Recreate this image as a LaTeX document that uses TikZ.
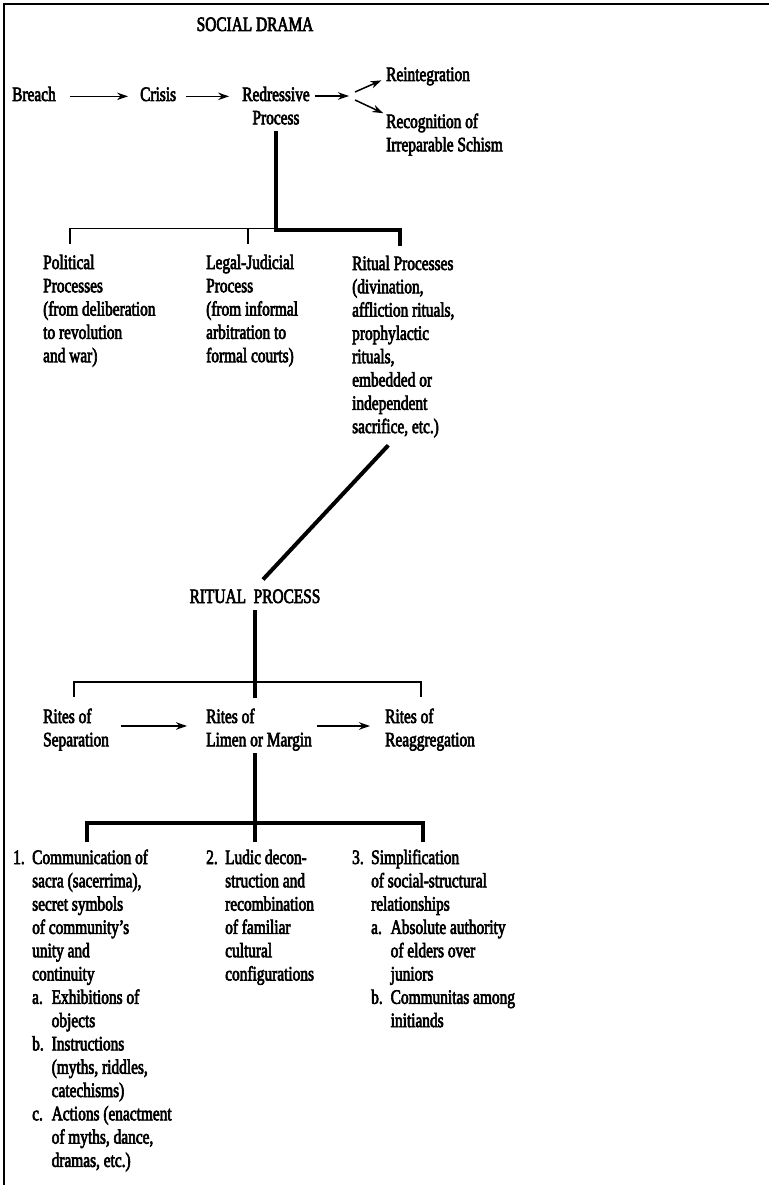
\documentclass[tikz,border=0pt]{standalone}
\usepackage{fontspec}
\setmainfont{Liberation Serif}[FakeStretch=0.75,FakeBold=3]
\usepackage{tikz}
\usetikzlibrary{arrows.meta, positioning}
\tikzstyle{txt} = [inner sep=0pt, anchor=base west, font=\fontsize{20.5pt}{23.3pt}\selectfont]
\tikzstyle{ctxt} = [inner sep=0pt, anchor=base, font=\fontsize{20.5pt}{23.3pt}\selectfont]
\tikzstyle{arrow} = [line width=1.5pt, -{Stealth[length=11pt,width=7.5pt]}]
\tikzstyle{branch} = [line width=1.4pt]
\tikzstyle{trunk} = [line width=4pt]
\newcommand{\leftlines}[1]{\begin{tabular}[t]{@{}l@{}}#1\end{tabular}}
\newcommand{\midlines}[1]{\begin{tabular}[t]{@{}c@{}}#1\end{tabular}}
\newcommand{\itemno}[1]{\makebox[19pt][l]{#1}}
\newcommand{\subno}[1]{\makebox[19.5pt][l]{#1}}

\begin{document}
\begin{tikzpicture}[x=1pt, y=-1pt]
\useasboundingbox (0,0) rectangle (769,1185);
% frame
\draw [branch] (769,4) -- (4,4) -- (4,1185);

% social drama
\node (drama) [ctxt] at (255,31) {\midlines{SOCIAL DRAMA}};
\node (breach) [txt] at (12,101) {\leftlines{Breach}};
\node (crisis) [txt] at (140,101) {\leftlines{Crisis}};
\node (redress) [ctxt] at (276,101) {\midlines{Redressive\\Process}};
\node (reint) [txt] at (386,81) {\leftlines{Reintegration}};
\node (recog) [txt] at (386,128) {\leftlines{Recognition of\\Irreparable Schism}};
\coordinate (fork) at (349,96);
\coordinate (fk1) at ([xshift=6pt,yshift=4pt]fork);
\coordinate (fk2) at ([xshift=6pt,yshift=-4pt]fork);
\draw [arrow, shorten <=14pt, shorten >=12pt] (breach) -- (crisis);
\draw [arrow, shorten <=10pt, shorten >=13pt] (crisis.east) -- (crisis.east -| redress.west);
\draw [arrow, shorten <=5pt] (redress.east |- fork) -- (fork);
\draw [arrow, shorten >=5pt] (fk1) -- ([yshift=-2pt]reint.west);
\draw [arrow, shorten >=3pt] (fk2) -- ([yshift=-3pt]recog.north west);

% redressive branches
\coordinate (ja) at (276,230);
\coordinate (jl) at (70,244);
\coordinate (jm) at (248,244);
\coordinate (jr) at (400,246);
\draw [trunk] (redress.south) -- (ja) -| (jr);
\draw [branch] (jl) |- ([yshift=1.5pt]ja);
\draw [branch] (jm) -- ++(0,-15.5);

\node (polit) [txt] at (43,269) {\leftlines{Political\\Processes\\(from deliberation\\to revolution\\and war)}};
\node (legal) [txt] at (206,269) {\leftlines{Legal-Judicial\\Process\\(from informal\\arbitration to\\formal courts)}};
\node (ritp) [txt] at (352,270) {\leftlines{Ritual Processes\\(divination,\\affliction rituals,\\prophylactic\\rituals,\\embedded or\\independent\\sacrifice, etc.)}};

% ritual process
\node (rproc) [ctxt] at (255,603) {\midlines{RITUAL\ \ PROCESS}};
\draw [trunk] ([xshift=-15pt,yshift=-5pt]ritp.south) -- ([xshift=8pt,yshift=7pt]rproc.north);

\coordinate (jb) at (255,698);
\coordinate (sl) at (74,697);
\coordinate (sr) at (421,697);
\draw [trunk] (rproc.south) -- (jb);
\draw [branch] (sl) -- ++(0,-15) -| (sr);

\node (sep) [txt] at (43,723) {\leftlines{Rites of\\Separation}};
\node (limen) [txt] at (206,723) {\leftlines{Rites of\\Limen or Margin}};
\node (reag) [txt] at (385,723) {\leftlines{Rites of\\Reaggregation}};
\draw [arrow, shorten <=12pt, shorten >=19pt] ([yshift=4pt]sep.east) -- ([yshift=4pt]limen.west);
\draw [arrow, shorten <=5pt, shorten >=15pt] ([yshift=4pt]limen.east) -- ([yshift=4pt]reag.west);

% liminal branches
\coordinate (jc) at (255,842);
\coordinate (b1) at (87,842);
\coordinate (b3) at (423,842);
\draw [trunk] (jc |- limen.south) -- (jc);
\draw [trunk] (b1) -- ++(0,-19) -| (b3);

\node (comm) [txt] at (13,864) {\leftlines{\itemno{1.}Communication of\\\itemno{}sacra (sacerrima),\\\itemno{}secret symbols\\\itemno{}of community’s\\\itemno{}unity and\\\itemno{}continuity\\\itemno{}\subno{a.}Exhibitions of\\\itemno{}\subno{}objects\\\itemno{}\subno{b.}Instructions\\\itemno{}\subno{}(myths, riddles,\\\itemno{}\subno{}catechisms)\\\itemno{}\subno{c.}Actions (enactment\\\itemno{}\subno{}of myths, dance,\\\itemno{}\subno{}dramas, etc.)}};
\node (ludic) [txt] at (206,864) {\leftlines{\itemno{2.}Ludic decon-\\\itemno{}struction and\\\itemno{}recombination\\\itemno{}of familiar\\\itemno{}cultural\\\itemno{}configurations}};
\node (simpl) [txt] at (352,864) {\leftlines{\itemno{3.}Simplification\\\itemno{}of social-structural\\\itemno{}relationships\\\itemno{}\subno{a.}Absolute authority\\\itemno{}\subno{}of elders over\\\itemno{}\subno{}juniors\\\itemno{}\subno{b.}Communitas among\\\itemno{}\subno{}initiands}};
\end{tikzpicture}
\end{document}
